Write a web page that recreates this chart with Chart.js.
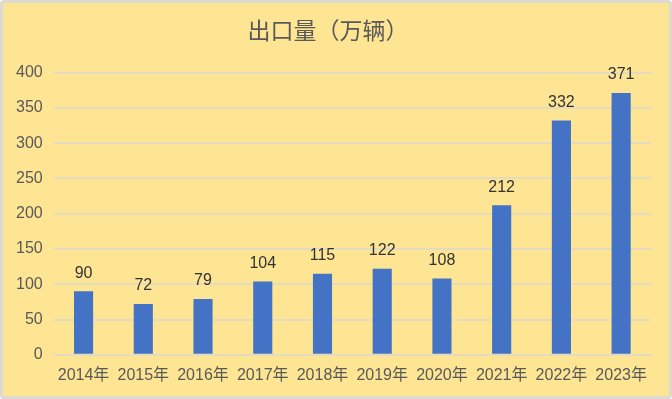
<!DOCTYPE html>
<html>
<head>
<meta charset="utf-8">
<script src="https://cdn.jsdelivr.net/npm/chart.js@4"></script>
<style>
  html, body { margin: 0; padding: 0; background: #fff; }
  #wrap {
    position: absolute; left: 0; top: 0; width: 672px; height: 399px;
    box-sizing: border-box; border: 3px solid #dcdad2; border-radius: 4px;
    background: #fde594;
  }
  #box { position: absolute; left: 0; top: 0; right: 0; bottom: 0; }
</style>
</head>
<body>
<div id="wrap"><div id="box"><canvas id="myChart"></canvas></div></div>
<script>
const years  = ['2014年', '2015年', '2016年', '2017年', '2018年', '2019年', '2020年', '2021年', '2022年', '2023年'];
const volume = [90, 72, 79, 104, 115, 122, 108, 212, 332, 371];
const yTicks = [0, 50, 100, 150, 200, 250, 300, 350, 400];

const txt  = '#595959';
const grid = '#e4dcc0';
const fam  = '"Liberation Sans", "Noto Sans CJK SC", sans-serif';

// value labels above each bar
const barLabels = {
  id: 'barLabels',
  afterDatasetsDraw(chart) {
    const ctx = chart.ctx;
    const meta = chart.getDatasetMeta(0);
    ctx.save();
    ctx.fillStyle = '#333';
    ctx.font = '16px ' + fam;
    ctx.textAlign = 'center';
    ctx.textBaseline = 'bottom';
    meta.data.forEach((bar, i) => {
      ctx.fillText(volume[i], bar.x, bar.y - 10);
    });
    ctx.restore();
  }
};

new Chart(document.getElementById('myChart').getContext('2d'), {
  type: 'bar',
  data: {
    labels: years,
    datasets: [{
      label: '出口量',
      data: volume,
      backgroundColor: '#4472c4',
      categoryPercentage: 1,
      barPercentage: 0.32
    }]
  },
  options: {
    responsive: true,
    maintainAspectRatio: false,
    animation: false,
    layout: { padding: { left: 2, right: 18, top: 0, bottom: 0 } },
    plugins: {
      legend: { display: false },
      tooltip: { enabled: false },
      title: {
        display: true,
        text: '出口量（万辆）',
        color: txt,
        font: { family: '"Noto Sans CJK SC", sans-serif', size: 23, weight: 'normal' },
        padding: { top: 13, bottom: 29 }
      }
    },
    scales: {
      x: {
        grid: { display: false, drawTicks: false },
        border: { color: grid, width: 1 },
        ticks: { color: txt, font: { family: fam, size: 16 }, padding: 11, maxRotation: 0, autoSkip: false }
      },
      y: {
        min: 0, max: 400,
        afterBuildTicks: axis => { axis.ticks = yTicks.map(v => ({ value: v })); },
        grid: { color: grid, lineWidth: 2, drawTicks: false },
        border: { display: false },
        ticks: { color: txt, font: { family: fam, size: 16 }, padding: 11 }
      }
    }
  },
  plugins: [barLabels]
});
</script>
</body>
</html>
